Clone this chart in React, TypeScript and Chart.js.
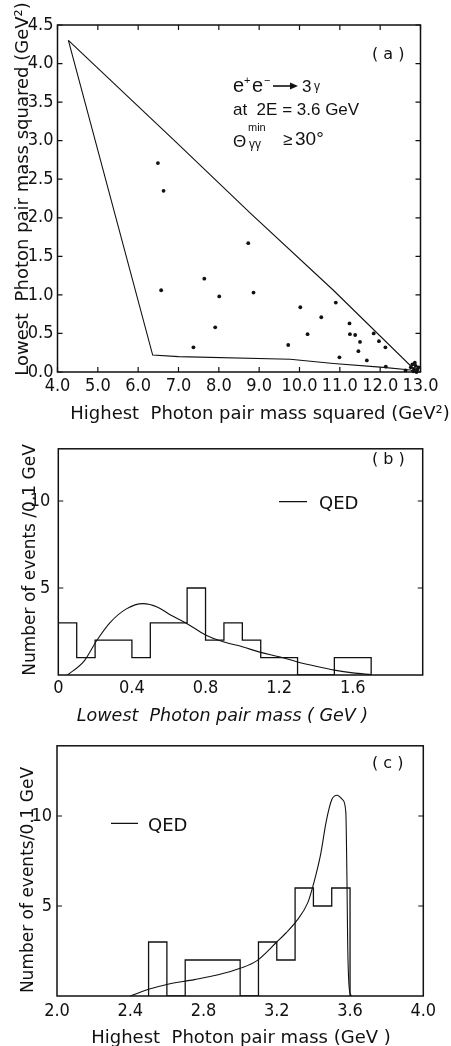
import React, { useEffect, useRef } from "react";
import { Chart, registerables } from "chart.js";

Chart.register(...registerables);

const INK = "#111111";
const TITLE = "'DejaVu Sans', sans-serif";
const NUM = "'Liberation Sans Narrow', 'DejaVu Sans Condensed', 'Liberation Sans', sans-serif";
const ANNO = "'Liberation Sans', 'DejaVu Sans', sans-serif";

// ---------- Panel (a): Dalitz-like scatter ----------
const aPointsX = [6.49, 6.63, 6.57, 7.64, 8.01, 8.73, 8.86, 10.02, 10.9, 10.54, 11.24, 7.91, 7.37, 9.72, 10.2, 11.25, 11.38, 11.5, 11.84, 11.97, 12.13, 11.46, 10.99, 11.67, 12.14, 12.63, 12.76, 12.8, 12.84, 12.88, 12.92, 12.86, 12.95, 12.82, 12.9];
const aPointsY = [2.71, 2.35, 1.06, 1.21, 0.98, 1.67, 1.03, 0.84, 0.9, 0.71, 0.63, 0.58, 0.32, 0.35, 0.49, 0.49, 0.48, 0.39, 0.5, 0.4, 0.32, 0.27, 0.19, 0.15, 0.07, 0.02, 0.06, 0.1, 0.04, 0.08, 0.03, 0.12, 0.06, 0.01, 0.0];
const aUpperX = [4.27, 6.92, 8.78, 10.84, 12.91];
const aUpperY = [4.3, 2.99, 2.06, 1.06, 0.0];
const aLowerX = [4.27, 6.36, 7.0, 9.77, 10.84, 12.08, 12.75, 12.91];
const aLowerY = [4.3, 0.22, 0.2, 0.165, 0.11, 0.06, 0.026, 0.0];
const aXTicks = [4, 5, 6, 7, 8, 9, 10, 11, 12, 13];
const aYTicks = [0, 0.5, 1, 1.5, 2, 2.5, 3, 3.5, 4, 4.5];

// ---------- Panel (b): lowest pair mass ----------
const bEdges = [0, 0.1, 0.2, 0.3, 0.4, 0.5, 0.6, 0.7, 0.8, 0.9, 1.0, 1.1, 1.2, 1.3, 1.4, 1.5, 1.6, 1.7];
const bCounts = [3, 1, 2, 2, 1, 3, 3, 5, 2, 3, 2, 1, 1, 0, 0, 1, 1];
const bQedX = [0.05, 0.14, 0.21, 0.28, 0.37, 0.46, 0.54, 0.61, 0.7, 0.8, 0.9, 1.0, 1.1, 1.2, 1.3, 1.4, 1.5, 1.6, 1.7];
const bQedY = [0, 0.8, 2.0, 3.0, 3.8, 4.1, 3.9, 3.45, 2.95, 2.3, 1.9, 1.62, 1.3, 1.05, 0.75, 0.5, 0.28, 0.12, 0.02];
const bXTicks = [0, 0.4, 0.8, 1.2, 1.6];
const bYTicks = [5, 10];

// ---------- Panel (c): highest pair mass ----------
const cEdges = [2.5, 2.6, 2.7, 2.8, 2.9, 3.0, 3.1, 3.2, 3.3, 3.4, 3.5, 3.6];
const cCounts = [3, 0, 2, 2, 2, 0, 3, 2, 6, 5, 6];
const cQedX = [2.4, 2.5, 2.6, 2.75, 2.88, 3.0, 3.09, 3.2, 3.25, 3.31, 3.37, 3.4, 3.44, 3.47, 3.5, 3.53, 3.56, 3.577, 3.583, 3.587, 3.595, 3.607];
const cQedY = [0, 0.37, 0.64, 0.91, 1.18, 1.54, 1.95, 3.0, 3.5, 4.2, 5.2, 6.2, 7.9, 9.7, 10.9, 11.15, 10.9, 10.2, 6.6, 3.0, 0.5, 0];
const cXTicks = [2.0, 2.4, 2.8, 3.2, 3.6, 4.0];
const cYTicks = [5, 10];

const zip = (xs: number[], ys: number[]) => xs.map((x, i) => ({ x, y: ys[i] }));
const histPoints = (edges: number[], counts: number[]) => [
  { x: edges[0], y: 0 },
  ...counts.map((c, i) => ({ x: edges[i], y: c })),
  { x: edges[edges.length - 1], y: 0 },
];

type TextItem = { t: string; x: number; y: number; size: number; family?: string; rot?: number; italic?: boolean; align?: CanvasTextAlign };

const decorPlugin = {
  id: "decor",
  afterDatasetsDraw(chart: any, _args: any, o: any) {
    const { ctx, chartArea: ca, scales } = chart;
    ctx.save();
    ctx.strokeStyle = INK;
    ctx.fillStyle = INK;
    ctx.lineWidth = 1.5;
    ctx.strokeRect(ca.left, ca.top, ca.right - ca.left, ca.bottom - ca.top);
    ctx.lineWidth = 1.2;
    ctx.beginPath();
    for (const v of o.yTicks || []) {
      const p = scales.y.getPixelForValue(v);
      ctx.moveTo(ca.left, p); ctx.lineTo(ca.left + o.tick, p);
      ctx.moveTo(ca.right, p); ctx.lineTo(ca.right - o.tick, p);
    }
    for (const v of o.xTicks || []) {
      const p = scales.x.getPixelForValue(v);
      ctx.moveTo(p, ca.bottom); ctx.lineTo(p, ca.bottom - o.tick);
      ctx.moveTo(p, ca.top); ctx.lineTo(p, ca.top + o.tick);
    }
    for (const s of o.segments || []) {
      ctx.moveTo(s.x1, s.y1); ctx.lineTo(s.x2, s.y2);
    }
    ctx.stroke();
    for (const a of o.arrows || []) {
      ctx.lineWidth = 1.6;
      ctx.beginPath();
      ctx.moveTo(a.x1, a.y); ctx.lineTo(a.x2 - 6, a.y);
      ctx.stroke();
      ctx.beginPath();
      ctx.moveTo(a.x2 - 8, a.y - 3.5); ctx.lineTo(a.x2, a.y); ctx.lineTo(a.x2 - 8, a.y + 3.5);
      ctx.closePath();
      ctx.fill();
    }
    for (const t of (o.texts || []) as TextItem[]) {
      ctx.save();
      ctx.font = `${t.italic ? "italic " : ""}${t.size}px ${t.family || TITLE}`;
      ctx.textAlign = t.align || "left";
      ctx.textBaseline = "alphabetic";
      ctx.translate(t.x, t.y);
      if (t.rot) ctx.rotate(t.rot);
      ctx.fillText(t.t, 0, 0);
      ctx.restore();
    }
    ctx.restore();
  },
};

function axis(min: number, max: number, ticks: number[], fmt: (v: number) => string, size: { w?: number; h?: number }, padding: number) {
  return {
    type: "linear",
    min,
    max,
    grid: { display: false, drawTicks: false },
    border: { display: false },
    afterBuildTicks: (s: any) => { s.ticks = ticks.map((v) => ({ value: v })); },
    afterFit: (s: any) => {
      if (size.w !== undefined) s.width = size.w;
      if (size.h !== undefined) s.height = size.h;
    },
    ticks: {
      autoSkip: false,
      maxRotation: 0,
      minRotation: 0,
      padding,
      color: INK,
      font: { family: NUM, size: 18 },
      callback: (v: any) => fmt(Number(v)),
    },
  };
}

const baseOpts = (pad: { top: number; right: number }) => ({
  responsive: false,
  maintainAspectRatio: false,
  animation: false,
  devicePixelRatio: 1,
  events: [],
  layout: { padding: { left: 0, right: pad.right, top: pad.top, bottom: 0 } },
});

const W = 451;

function configA(): any {
  const H = 430;
  return {
    type: "scatter",
    data: {
      datasets: [
        { data: zip(aUpperX, aUpperY), showLine: true, borderColor: INK, borderWidth: 1.1, pointRadius: 0, tension: 0 },
        { data: zip(aLowerX, aLowerY), showLine: true, borderColor: INK, borderWidth: 1.1, pointRadius: 0, tension: 0 },
        { data: zip(aPointsX, aPointsY), showLine: false, pointRadius: 1.9, pointBorderWidth: 0, pointBackgroundColor: INK, clip: false },
      ],
    },
    options: {
      ...baseOpts({ top: 25, right: W - 420.5 }),
      scales: {
        x: axis(4, 13, aXTicks, (v) => v.toFixed(1), { h: H - 372 }, 4),
        y: axis(0, 4.5, aYTicks, (v) => v.toFixed(1), { w: 57.5 }, 4),
      },
      plugins: {
        legend: { display: false },
        tooltip: { enabled: false },
        decor: {
          tick: 5,
          xTicks: aXTicks,
          yTicks: aYTicks,
          arrows: [{ x1: 273, x2: 298, y: 86 }],
          texts: [
            { t: "Lowest  Photon pair mass squared (GeV²)", x: 28, y: 189, size: 18, rot: -Math.PI / 2, align: "center" },
            { t: "Highest  Photon pair mass squared (GeV²)", x: 260, y: 419, size: 18, align: "center" },
            { t: "( a )", x: 372, y: 59, size: 16 },
            { t: "e", x: 233, y: 92, size: 20, family: ANNO },
            { t: "+", x: 244, y: 84, size: 11, family: ANNO },
            { t: "e", x: 252, y: 92, size: 20, family: ANNO },
            { t: "−", x: 264, y: 84, size: 11, family: ANNO },
            { t: "3", x: 302, y: 92, size: 17, family: ANNO },
            { t: "γ", x: 314, y: 89.5, size: 12, family: ANNO },
            { t: "at  2E = 3.6 GeV", x: 233, y: 115, size: 17, family: ANNO },
            { t: "Θ", x: 233, y: 147, size: 17, family: ANNO },
            { t: "min", x: 248, y: 131, size: 11, family: ANNO },
            { t: "γγ", x: 249, y: 148, size: 12, family: ANNO },
            { t: "≥", x: 283, y: 145, size: 17, family: ANNO },
            { t: "30°", x: 295, y: 145, size: 19, family: ANNO },
          ],
        },
      },
    },
    plugins: [decorPlugin],
  };
}

function configB(): any {
  const H = 300;
  return {
    type: "line",
    data: {
      datasets: [
        { data: histPoints(bEdges, bCounts), stepped: true, borderColor: INK, borderWidth: 1.3, pointRadius: 0, fill: false },
        { data: zip(bQedX, bQedY), cubicInterpolationMode: "monotone", borderColor: INK, borderWidth: 1.1, pointRadius: 0, fill: false },
      ],
    },
    options: {
      ...baseOpts({ top: 6.7, right: W - 422.7 }),
      scales: {
        x: axis(0, 1.98, bXTicks, (v) => (v === 0 ? "0" : v.toFixed(1)), { h: H - 245 }, 3),
        y: axis(0, 13, bYTicks, (v) => String(v), { w: 58.3 }, 8),
      },
      plugins: {
        legend: { display: false },
        tooltip: { enabled: false },
        decor: {
          tick: 5,
          yTicks: bYTicks,
          segments: [{ x1: 279, y1: 71.7, x2: 307, y2: 71.7 }],
          texts: [
            { t: "Number of events /0.1 GeV", x: 35, y: 130, size: 17, rot: -Math.PI / 2, align: "center" },
            { t: "Lowest  Photon pair mass ( GeV )", x: 222.5, y: 291, size: 17.5, italic: true, align: "center" },
            { t: "( b )", x: 372, y: 34, size: 16 },
            { t: "QED", x: 319, y: 79, size: 18 },
          ],
        },
      },
    },
    plugins: [decorPlugin],
  };
}

function configC(): any {
  const H = 316;
  return {
    type: "line",
    data: {
      datasets: [
        { data: histPoints(cEdges, cCounts), stepped: true, borderColor: INK, borderWidth: 1.3, pointRadius: 0, fill: false },
        { data: zip(cQedX, cQedY), cubicInterpolationMode: "monotone", borderColor: INK, borderWidth: 1.1, pointRadius: 0, fill: false },
      ],
    },
    options: {
      ...baseOpts({ top: 10.7, right: W - 423.3 }),
      scales: {
        x: axis(2.0, 4.0, cXTicks, (v) => v.toFixed(1), { h: H - 266 }, 4.5),
        y: axis(0, 13.9, cYTicks, (v) => String(v), { w: 57 }, 5),
      },
      plugins: {
        legend: { display: false },
        tooltip: { enabled: false },
        decor: {
          tick: 5,
          yTicks: cYTicks,
          segments: [{ x1: 111, y1: 93.3, x2: 138, y2: 93.3 }],
          texts: [
            { t: "Number of events/0.1 GeV", x: 33, y: 150, size: 17, rot: -Math.PI / 2, align: "center" },
            { t: "Highest  Photon pair mass (GeV )", x: 241, y: 312.5, size: 18, align: "center" },
            { t: "( c )", x: 372, y: 38, size: 16 },
            { t: "QED", x: 148, y: 100.7, size: 18 },
          ],
        },
      },
    },
    plugins: [decorPlugin],
  };
}

function Panel({ make, top, height }: { make: () => any; top: number; height: number }) {
  const ref = useRef<HTMLCanvasElement>(null);
  useEffect(() => {
    const chart = new Chart(ref.current as HTMLCanvasElement, make());
    let alive = true;
    (document as any).fonts?.ready?.then(() => { if (alive) chart.update(); });
    return () => { alive = false; chart.destroy(); };
  }, []);
  return (
    <canvas
      ref={ref}
      width={W}
      height={height}
      style={{ position: "absolute", left: 0, top, width: W, height }}
    />
  );
}

export default function App() {
  return (
    <div style={{ position: "absolute", left: 0, top: 0, width: W, height: 1046, background: "#fff", overflow: "hidden" }}>
      <Panel make={configA} top={0} height={430} />
      <Panel make={configB} top={430} height={300} />
      <Panel make={configC} top={730} height={316} />
    </div>
  );
}
